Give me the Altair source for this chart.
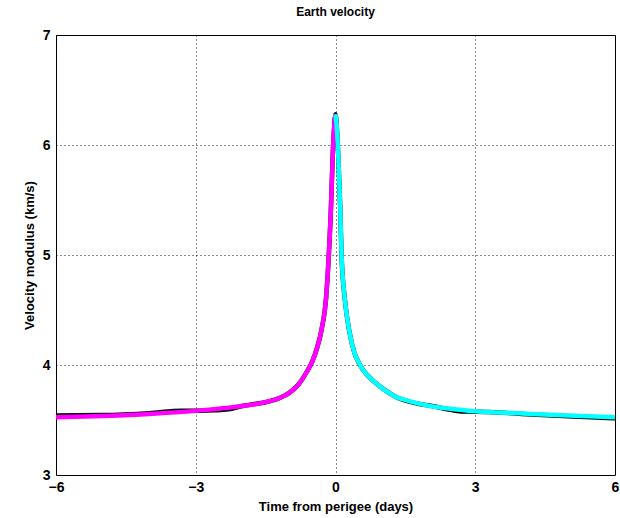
import altair as alt
import pandas as pd

# Black (full model) series
t_black = [-6, -5, -4, -3.3, -2.9, -2.6, -2.3, -2.0, -1.7, -1.5, -1.2, -1.0, -0.8, -0.6,
           -0.5, -0.4, -0.3, -0.2, -0.15, -0.1, -0.06, -0.03, 0, 0.03, 0.06, 0.1, 0.13,
           0.2, 0.3, 0.4, 0.5, 0.6, 0.8, 1.0, 1.3, 1.6, 1.8, 2.1, 2.4, 2.7, 3.0, 3.3,
           4, 5, 6]
v_black = [3.542, 3.545, 3.562, 3.585, 3.585, 3.588, 3.597, 3.627, 3.648, 3.662, 3.70,
           3.745, 3.82, 3.95, 4.03, 4.15, 4.32, 4.62, 4.95, 5.40, 5.90, 6.15, 6.28, 6.15,
           5.90, 5.45, 5.0, 4.60, 4.30, 4.12, 4.02, 3.95, 3.86, 3.79, 3.71, 3.665,
           3.645, 3.625, 3.598, 3.578, 3.576, 3.573, 3.555, 3.535, 3.515]

# Magenta (before perigee)
t_mag = [-6, -5, -4, -3, -2.5, -2, -1.5, -1.2, -1.0, -0.8, -0.6, -0.5, -0.4, -0.3,
         -0.2, -0.15, -0.1, -0.06, -0.03, 0]
v_mag = [3.524, 3.537, 3.555, 3.583, 3.603, 3.627, 3.662, 3.70, 3.745, 3.82, 3.95,
         4.03, 4.15, 4.32, 4.62, 4.95, 5.40, 5.90, 6.15, 6.28]

# Cyan (after perigee)
t_cyan = [0, 0.03, 0.06, 0.1, 0.13, 0.2, 0.3, 0.4, 0.5, 0.6, 0.8, 1.0, 1.3, 1.6, 2.0,
          2.5, 3.0, 4.0, 5.0, 6.0]
v_cyan = [6.28, 6.15, 5.90, 5.45, 5.0, 4.60, 4.30, 4.12, 4.02, 3.95, 3.86, 3.79, 3.71,
          3.67, 3.63, 3.60, 3.58, 3.56, 3.54, 3.525]

x_ticks = [-6, -3, 0, 3, 6]
y_ticks = [3, 4, 5, 6, 7]

df_black = pd.DataFrame({"t": t_black, "v": v_black})
df_mag = pd.DataFrame({"t": t_mag, "v": v_mag})
df_cyan = pd.DataFrame({"t": t_cyan, "v": v_cyan})

FONT = "Liberation Sans"

xenc = alt.X("t:Q", scale=alt.Scale(domain=[-6, 6], nice=False, zero=False),
             axis=alt.Axis(values=x_ticks, title="Time from perigee (days)", format="d",
                           grid=True, gridDash=[1, 3], gridColor="black", gridOpacity=0.9,
                           domain=False, ticks=False, labelPadding=5, labelFontSize=14,
                           labelFontWeight="bold", labelFont=FONT, labelColor="black",
                           titleFontSize=13, titleFontWeight="bold", titleFont=FONT,
                           titleColor="black", titlePadding=6, labelFlush=False))
yenc = alt.Y("v:Q", scale=alt.Scale(domain=[3, 7], nice=False, zero=False),
             axis=alt.Axis(values=y_ticks, title="Velocity modulus (km/s)", format="d",
                           grid=True, gridDash=[1, 3], gridColor="black", gridOpacity=0.9,
                           domain=False, ticks=False, labelPadding=6, labelFontSize=14,
                           labelFontWeight="bold", labelFont=FONT, labelColor="black",
                           titleFontSize=13, titleFontWeight="bold", titleFont=FONT,
                           titleColor="black", titlePadding=6, labelFlush=False))

black = alt.Chart(df_black).mark_line(color="black", strokeWidth=4.5,
                                      interpolate="monotone").encode(x=xenc, y=yenc)
mag = alt.Chart(df_mag).mark_line(color="#ff00ff", strokeWidth=4.5,
                                  interpolate="monotone").encode(x="t:Q", y="v:Q")
cyan = alt.Chart(df_cyan).mark_line(color="#00ffff", strokeWidth=4.5,
                                    interpolate="monotone").encode(x="t:Q", y="v:Q")

chart = alt.layer(black, mag, cyan).properties(
    width=559, height=440,
    title=alt.TitleParams("Earth velocity", fontSize=12, fontWeight="bold", font=FONT,
                          color="black", offset=9, anchor="middle"),
    autosize=alt.AutoSizeParams(type="none"),
    padding={"left": 56, "top": 35, "right": 5, "bottom": 43},
    background="white",
).configure_view(stroke="black", strokeWidth=1)

chart.save("out.html", embed_options={"renderer": "svg", "actions": False})
